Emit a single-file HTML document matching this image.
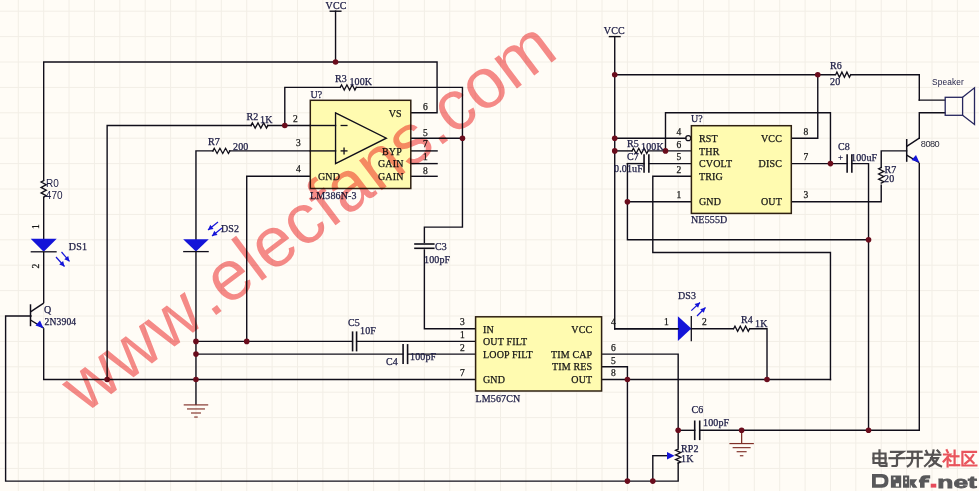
<!DOCTYPE html>
<html><head><meta charset="utf-8"><style>
html,body{margin:0;padding:0;background:#fffcf6;width:979px;height:491px;overflow:hidden}
svg{display:block}
</style></head><body>
<svg width="979" height="491" viewBox="0 0 979 491">
<rect width="979" height="491" fill="#fffcf6"/>
<g stroke="#f2eee6" stroke-width="1"><line x1="18.30" y1="0" x2="18.30" y2="491"/><line x1="43.68" y1="0" x2="43.68" y2="491"/><line x1="69.06" y1="0" x2="69.06" y2="491"/><line x1="94.44" y1="0" x2="94.44" y2="491"/><line x1="119.82" y1="0" x2="119.82" y2="491"/><line x1="145.20" y1="0" x2="145.20" y2="491"/><line x1="170.58" y1="0" x2="170.58" y2="491"/><line x1="195.96" y1="0" x2="195.96" y2="491"/><line x1="221.34" y1="0" x2="221.34" y2="491"/><line x1="246.72" y1="0" x2="246.72" y2="491"/><line x1="272.10" y1="0" x2="272.10" y2="491"/><line x1="297.48" y1="0" x2="297.48" y2="491"/><line x1="322.86" y1="0" x2="322.86" y2="491"/><line x1="348.24" y1="0" x2="348.24" y2="491"/><line x1="373.62" y1="0" x2="373.62" y2="491"/><line x1="399.00" y1="0" x2="399.00" y2="491"/><line x1="424.38" y1="0" x2="424.38" y2="491"/><line x1="449.76" y1="0" x2="449.76" y2="491"/><line x1="475.14" y1="0" x2="475.14" y2="491"/><line x1="500.52" y1="0" x2="500.52" y2="491"/><line x1="525.90" y1="0" x2="525.90" y2="491"/><line x1="551.28" y1="0" x2="551.28" y2="491"/><line x1="576.66" y1="0" x2="576.66" y2="491"/><line x1="602.04" y1="0" x2="602.04" y2="491"/><line x1="627.42" y1="0" x2="627.42" y2="491"/><line x1="652.80" y1="0" x2="652.80" y2="491"/><line x1="678.18" y1="0" x2="678.18" y2="491"/><line x1="703.56" y1="0" x2="703.56" y2="491"/><line x1="728.94" y1="0" x2="728.94" y2="491"/><line x1="754.32" y1="0" x2="754.32" y2="491"/><line x1="779.70" y1="0" x2="779.70" y2="491"/><line x1="805.08" y1="0" x2="805.08" y2="491"/><line x1="830.46" y1="0" x2="830.46" y2="491"/><line x1="855.84" y1="0" x2="855.84" y2="491"/><line x1="881.22" y1="0" x2="881.22" y2="491"/><line x1="906.60" y1="0" x2="906.60" y2="491"/><line x1="931.98" y1="0" x2="931.98" y2="491"/><line x1="957.36" y1="0" x2="957.36" y2="491"/><line x1="0" y1="11.20" x2="979" y2="11.20"/><line x1="0" y1="36.60" x2="979" y2="36.60"/><line x1="0" y1="62.00" x2="979" y2="62.00"/><line x1="0" y1="87.40" x2="979" y2="87.40"/><line x1="0" y1="112.80" x2="979" y2="112.80"/><line x1="0" y1="138.20" x2="979" y2="138.20"/><line x1="0" y1="163.60" x2="979" y2="163.60"/><line x1="0" y1="189.00" x2="979" y2="189.00"/><line x1="0" y1="214.40" x2="979" y2="214.40"/><line x1="0" y1="239.80" x2="979" y2="239.80"/><line x1="0" y1="265.20" x2="979" y2="265.20"/><line x1="0" y1="290.60" x2="979" y2="290.60"/><line x1="0" y1="316.00" x2="979" y2="316.00"/><line x1="0" y1="341.40" x2="979" y2="341.40"/><line x1="0" y1="366.80" x2="979" y2="366.80"/><line x1="0" y1="392.20" x2="979" y2="392.20"/><line x1="0" y1="417.60" x2="979" y2="417.60"/><line x1="0" y1="443.00" x2="979" y2="443.00"/><line x1="0" y1="468.40" x2="979" y2="468.40"/></g>
<line x1="329.55" y1="11.2" x2="341.55" y2="11.2" stroke="#100e1a" stroke-width="1.4"/>
<polyline points="335.55,11.2 335.55,62.0" fill="none" stroke="#100e1a" stroke-width="1.4" stroke-linejoin="miter" stroke-linecap="square"/>
<polyline points="43.68,62.0 437.07,62.0 437.07,112.8 411.69,112.8" fill="none" stroke="#100e1a" stroke-width="1.4" stroke-linejoin="miter" stroke-linecap="square"/>
<line x1="43.68" y1="62.0" x2="43.68" y2="180.6" stroke="#100e1a" stroke-width="1.4"/>
<polyline points="43.68,180.60000000000002 41.08,181.9666666666667 46.28,184.70000000000002 41.08,187.43333333333337 46.28,190.16666666666669 41.08,192.90000000000003 46.28,195.63333333333335 43.68,197.00000000000003" fill="none" stroke="#100e1a" stroke-width="1.3" stroke-linejoin="miter" stroke-linecap="square"/>
<line x1="43.68" y1="197" x2="43.68" y2="239" stroke="#100e1a" stroke-width="1.4"/>
<line x1="43.68" y1="252" x2="43.68" y2="303.2" stroke="#100e1a" stroke-width="1.4"/>
<line x1="30.5" y1="304.3" x2="30.5" y2="326.2" stroke="#100e1a" stroke-width="1.5"/>
<line x1="30.5" y1="311.9" x2="43.68" y2="303.2" stroke="#100e1a" stroke-width="1.4"/>
<line x1="30.5" y1="320" x2="43.68" y2="328.2" stroke="#100e1a" stroke-width="1.4"/>
<line x1="43.68" y1="328.2" x2="43.68" y2="379.5" stroke="#100e1a" stroke-width="1.4"/>
<polyline points="30.99,316.0 5.61,316.0 5.61,481.1 678.18,481.1 678.18,463.32" fill="none" stroke="#100e1a" stroke-width="1.4" stroke-linejoin="miter" stroke-linecap="square"/>
<polyline points="678.18,448.08 678.18,354.1 602.04,354.1" fill="none" stroke="#100e1a" stroke-width="1.4" stroke-linejoin="miter" stroke-linecap="square"/>
<polyline points="678.18,449.1 675.5799999999999,450.2666666666667 680.78,452.6 675.5799999999999,454.93333333333334 680.78,457.2666666666667 675.5799999999999,459.6 680.78,461.93333333333334 678.18,463.1" fill="none" stroke="#100e1a" stroke-width="1.3" stroke-linejoin="miter" stroke-linecap="square"/>
<polyline points="652.8,481.1 652.8,455.7" fill="none" stroke="#100e1a" stroke-width="1.4" stroke-linejoin="miter" stroke-linecap="square"/>
<line x1="652.8" y1="455.7" x2="670" y2="455.7" stroke="#100e1a" stroke-width="1.4"/>
<polyline points="43.68,379.5 475.14,379.5" fill="none" stroke="#100e1a" stroke-width="1.4" stroke-linejoin="miter" stroke-linecap="square"/>
<polyline points="107.13,379.5 107.13,125.5 251.16,125.5" fill="none" stroke="#100e1a" stroke-width="1.4" stroke-linejoin="miter" stroke-linecap="square"/>
<polyline points="250.91000000000003,125.5 252.32666666666668,122.9 255.16000000000003,128.1 257.99333333333334,122.9 260.8266666666667,128.1 263.66,122.9 266.49333333333334,128.1 267.91,125.5" fill="none" stroke="#100e1a" stroke-width="1.3" stroke-linejoin="miter" stroke-linecap="square"/>
<polyline points="267.66,125.5 335.55,125.5" fill="none" stroke="#100e1a" stroke-width="1.4" stroke-linejoin="miter" stroke-linecap="square"/>
<polyline points="284.79,125.5 284.79,87.4 339.99,87.4" fill="none" stroke="#100e1a" stroke-width="1.4" stroke-linejoin="miter" stroke-linecap="square"/>
<polyline points="340.24,87.4 341.5733333333333,84.80000000000001 344.24,90.0 346.9066666666667,84.80000000000001 349.5733333333333,90.0 352.24,84.80000000000001 354.9066666666667,90.0 356.24,87.4" fill="none" stroke="#100e1a" stroke-width="1.3" stroke-linejoin="miter" stroke-linecap="square"/>
<polyline points="356.49,87.4 462.45,87.4 462.45,227.1 424.38,227.1 424.38,242.34" fill="none" stroke="#100e1a" stroke-width="1.4" stroke-linejoin="miter" stroke-linecap="square"/>
<line x1="414.18" y1="244.0" x2="434.58" y2="244.0" stroke="#100e1a" stroke-width="1.6"/>
<line x1="414.18" y1="248.3" x2="434.58" y2="248.3" stroke="#100e1a" stroke-width="1.6"/>
<polyline points="424.38,249.96 424.38,328.7 475.14,328.7" fill="none" stroke="#100e1a" stroke-width="1.4" stroke-linejoin="miter" stroke-linecap="square"/>
<polyline points="386.31,138.2 462.45,138.2" fill="none" stroke="#100e1a" stroke-width="1.4" stroke-linejoin="miter" stroke-linecap="square"/>
<polyline points="195.96,239.8 195.96,150.9 213.09,150.9" fill="none" stroke="#100e1a" stroke-width="1.4" stroke-linejoin="miter" stroke-linecap="square"/>
<polyline points="212.84,150.9 214.25666666666666,148.3 217.09,153.5 219.92333333333335,148.3 222.75666666666666,153.5 225.59,148.3 228.42333333333335,153.5 229.84,150.9" fill="none" stroke="#100e1a" stroke-width="1.3" stroke-linejoin="miter" stroke-linecap="square"/>
<polyline points="229.59,150.9 335.55,150.9" fill="none" stroke="#100e1a" stroke-width="1.4" stroke-linejoin="miter" stroke-linecap="square"/>
<line x1="195.96" y1="252" x2="195.96" y2="404.9" stroke="#100e1a" stroke-width="1.4"/>
<polyline points="310.17,176.3 246.72,176.3 246.72,341.4" fill="none" stroke="#100e1a" stroke-width="1.4" stroke-linejoin="miter" stroke-linecap="square"/>
<polyline points="411.69,150.9 437.07,150.9" fill="none" stroke="#100e1a" stroke-width="1.4" stroke-linejoin="miter" stroke-linecap="square"/>
<polyline points="411.69,163.6 437.07,163.6" fill="none" stroke="#100e1a" stroke-width="1.4" stroke-linejoin="miter" stroke-linecap="square"/>
<polyline points="411.69,176.3 437.07,176.3" fill="none" stroke="#100e1a" stroke-width="1.4" stroke-linejoin="miter" stroke-linecap="square"/>
<polyline points="195.96,341.4 352.05,341.4" fill="none" stroke="#100e1a" stroke-width="1.4" stroke-linejoin="miter" stroke-linecap="square"/>
<line x1="352.58" y1="331.4" x2="352.58" y2="351.4" stroke="#100e1a" stroke-width="1.6"/>
<line x1="356.58" y1="331.4" x2="356.58" y2="351.4" stroke="#100e1a" stroke-width="1.6"/>
<polyline points="357.12,341.4 475.14,341.4" fill="none" stroke="#100e1a" stroke-width="1.4" stroke-linejoin="miter" stroke-linecap="square"/>
<polyline points="195.96,354.1 402.81,354.1" fill="none" stroke="#100e1a" stroke-width="1.4" stroke-linejoin="miter" stroke-linecap="square"/>
<line x1="403.09" y1="344.1" x2="403.09" y2="364.1" stroke="#100e1a" stroke-width="1.6"/>
<line x1="407.59" y1="344.1" x2="407.59" y2="364.1" stroke="#100e1a" stroke-width="1.6"/>
<polyline points="407.88,354.1 475.14,354.1" fill="none" stroke="#100e1a" stroke-width="1.4" stroke-linejoin="miter" stroke-linecap="square"/>
<line x1="608.73" y1="36.6" x2="620.73" y2="36.6" stroke="#100e1a" stroke-width="1.4"/>
<polyline points="614.73,36.6 614.73,328.7" fill="none" stroke="#100e1a" stroke-width="1.4" stroke-linejoin="miter" stroke-linecap="square"/>
<polyline points="614.73,74.7 834.9,74.7" fill="none" stroke="#100e1a" stroke-width="1.4" stroke-linejoin="miter" stroke-linecap="square"/>
<polyline points="835.65,74.7 836.9,72.10000000000001 839.4,77.3 841.9,72.10000000000001 844.4,77.3 846.9,72.10000000000001 849.4,77.3 850.65,74.7" fill="none" stroke="#100e1a" stroke-width="1.3" stroke-linejoin="miter" stroke-linecap="square"/>
<polyline points="851.4,74.7 919.29,74.7 919.29,100.1 944.67,100.1" fill="none" stroke="#100e1a" stroke-width="1.4" stroke-linejoin="miter" stroke-linecap="square"/>
<polyline points="944.67,112.8 919.29,112.8 919.29,138.2" fill="none" stroke="#100e1a" stroke-width="1.4" stroke-linejoin="miter" stroke-linecap="square"/>
<line x1="906.7" y1="139" x2="906.7" y2="161.8" stroke="#100e1a" stroke-width="1.5"/>
<line x1="906.7" y1="146.3" x2="919.29" y2="138.1" stroke="#100e1a" stroke-width="1.4"/>
<line x1="906.7" y1="155.2" x2="919.29" y2="162.6" stroke="#100e1a" stroke-width="1.4"/>
<polyline points="919.29,163.6 919.29,430.3" fill="none" stroke="#100e1a" stroke-width="1.4" stroke-linejoin="miter" stroke-linecap="square"/>
<polyline points="906.6,150.9 881.22,150.9 881.22,167.41" fill="none" stroke="#100e1a" stroke-width="1.4" stroke-linejoin="miter" stroke-linecap="square"/>
<polyline points="881.22,167.55 878.62,168.84166666666667 883.82,171.425 878.62,174.00833333333335 883.82,176.59166666666667 878.62,179.175 883.82,181.75833333333335 881.22,183.05" fill="none" stroke="#100e1a" stroke-width="1.3" stroke-linejoin="miter" stroke-linecap="square"/>
<polyline points="881.22,185.19 881.22,201.7 792.39,201.7" fill="none" stroke="#100e1a" stroke-width="1.4" stroke-linejoin="miter" stroke-linecap="square"/>
<polyline points="665.49,150.9 665.49,112.8 830.46,112.8 830.46,163.6" fill="none" stroke="#100e1a" stroke-width="1.4" stroke-linejoin="miter" stroke-linecap="square"/>
<polyline points="792.39,138.2 817.77,138.2 817.77,74.7" fill="none" stroke="#100e1a" stroke-width="1.4" stroke-linejoin="miter" stroke-linecap="square"/>
<polyline points="792.39,163.6 846.96,163.6" fill="none" stroke="#100e1a" stroke-width="1.4" stroke-linejoin="miter" stroke-linecap="square"/>
<line x1="847.14" y1="154.35" x2="847.14" y2="172.85" stroke="#100e1a" stroke-width="1.6"/>
<line x1="851.84" y1="154.35" x2="851.84" y2="172.85" stroke="#100e1a" stroke-width="1.6"/>
<polyline points="852.03,163.6 868.53,163.6 868.53,430.3" fill="none" stroke="#100e1a" stroke-width="1.4" stroke-linejoin="miter" stroke-linecap="square"/>
<polyline points="614.73,138.2 685.79,138.2" fill="none" stroke="#100e1a" stroke-width="1.4" stroke-linejoin="miter" stroke-linecap="square"/>
<circle cx="688.27" cy="138.2" r="2.5" fill="none" stroke="#100e1a" stroke-width="1.2"/>
<polyline points="614.73,150.9 631.86,150.9" fill="none" stroke="#100e1a" stroke-width="1.4" stroke-linejoin="miter" stroke-linecap="square"/>
<polyline points="632.11,150.9 633.4433333333334,148.3 636.11,153.5 638.7766666666666,148.3 641.4433333333334,153.5 644.11,148.3 646.7766666666666,153.5 648.11,150.9" fill="none" stroke="#100e1a" stroke-width="1.3" stroke-linejoin="miter" stroke-linecap="square"/>
<polyline points="648.36,150.9 690.87,150.9" fill="none" stroke="#100e1a" stroke-width="1.4" stroke-linejoin="miter" stroke-linecap="square"/>
<polyline points="627.42,163.6 643.92,163.6" fill="none" stroke="#100e1a" stroke-width="1.4" stroke-linejoin="miter" stroke-linecap="square"/>
<line x1="644.0500000000001" y1="154.35" x2="644.0500000000001" y2="172.85" stroke="#100e1a" stroke-width="1.6"/>
<line x1="648.85" y1="154.35" x2="648.85" y2="172.85" stroke="#100e1a" stroke-width="1.6"/>
<polyline points="648.99,163.6 690.87,163.6" fill="none" stroke="#100e1a" stroke-width="1.4" stroke-linejoin="miter" stroke-linecap="square"/>
<polyline points="627.42,163.6 627.42,239.8 868.53,239.8" fill="none" stroke="#100e1a" stroke-width="1.4" stroke-linejoin="miter" stroke-linecap="square"/>
<polyline points="690.87,201.7 627.42,201.7" fill="none" stroke="#100e1a" stroke-width="1.4" stroke-linejoin="miter" stroke-linecap="square"/>
<polyline points="690.87,176.3 652.8,176.3 652.8,252.5 830.46,252.5 830.46,379.5" fill="none" stroke="#100e1a" stroke-width="1.4" stroke-linejoin="miter" stroke-linecap="square"/>
<polyline points="602.04,379.5 830.46,379.5" fill="none" stroke="#100e1a" stroke-width="1.4" stroke-linejoin="miter" stroke-linecap="square"/>
<polyline points="602.04,366.8 627.42,366.8 627.42,481.1" fill="none" stroke="#100e1a" stroke-width="1.4" stroke-linejoin="miter" stroke-linecap="square"/>
<polyline points="614.73,328.7 678.18,328.7" fill="none" stroke="#100e1a" stroke-width="1.4" stroke-linejoin="miter" stroke-linecap="square"/>
<polyline points="690.87,328.7 733.38,328.7" fill="none" stroke="#100e1a" stroke-width="1.4" stroke-linejoin="miter" stroke-linecap="square"/>
<polyline points="733.63,328.7 734.9633333333334,326.09999999999997 737.63,331.3 740.2966666666666,326.09999999999997 742.9633333333334,331.3 745.63,326.09999999999997 748.2966666666666,331.3 749.63,328.7" fill="none" stroke="#100e1a" stroke-width="1.3" stroke-linejoin="miter" stroke-linecap="square"/>
<polyline points="749.88,328.7 767.01,328.7 767.01,379.5" fill="none" stroke="#100e1a" stroke-width="1.4" stroke-linejoin="miter" stroke-linecap="square"/>
<polyline points="678.18,430.3 694.68,430.3" fill="none" stroke="#100e1a" stroke-width="1.4" stroke-linejoin="miter" stroke-linecap="square"/>
<line x1="694.71" y1="420.5" x2="694.71" y2="440.1" stroke="#100e1a" stroke-width="1.6"/>
<line x1="699.71" y1="420.5" x2="699.71" y2="440.1" stroke="#100e1a" stroke-width="1.6"/>
<polyline points="699.75,430.3 919.29,430.3" fill="none" stroke="#100e1a" stroke-width="1.4" stroke-linejoin="miter" stroke-linecap="square"/>
<line x1="741.63" y1="430.3" x2="741.63" y2="443.6" stroke="#803028" stroke-width="1.3"/>
<line x1="729.38" y1="443.6" x2="753.88" y2="443.6" stroke="#803028" stroke-width="1.15"/>
<line x1="732.63" y1="447.65000000000003" x2="750.63" y2="447.65000000000003" stroke="#803028" stroke-width="1.15"/>
<line x1="736.63" y1="451.70000000000005" x2="746.63" y2="451.70000000000005" stroke="#803028" stroke-width="1.15"/>
<line x1="739.88" y1="455.75" x2="743.38" y2="455.75" stroke="#803028" stroke-width="1.15"/>
<line x1="183.71" y1="404.9" x2="208.21" y2="404.9" stroke="#803028" stroke-width="1.15"/>
<line x1="186.96" y1="408.95" x2="204.96" y2="408.95" stroke="#803028" stroke-width="1.15"/>
<line x1="190.96" y1="413.0" x2="200.96" y2="413.0" stroke="#803028" stroke-width="1.15"/>
<line x1="194.21" y1="417.04999999999995" x2="197.71" y2="417.04999999999995" stroke="#803028" stroke-width="1.15"/>
<rect x="310.3" y="100.3" width="100.5" height="88.2" fill="#fffbb0" stroke="#2e2012" stroke-width="1.5"/>
<rect x="475.6" y="316.8" width="126.0" height="74.2" fill="#fffbb0" stroke="#2e2012" stroke-width="1.5"/>
<rect x="691.4" y="125.7" width="99.9" height="87.7" fill="#fffbb0" stroke="#2e2012" stroke-width="1.5"/>
<polygon points="335.55,112.8 335.55,163.6 386.31,138.2" fill="none" stroke="#100e1a" stroke-width="1.35"/>
<polyline points="310.17,125.5 335.55,125.5" fill="none" stroke="#100e1a" stroke-width="1.4" stroke-linejoin="miter" stroke-linecap="square"/>
<polyline points="310.17,150.9 335.55,150.9" fill="none" stroke="#100e1a" stroke-width="1.4" stroke-linejoin="miter" stroke-linecap="square"/>
<line x1="340.55" y1="125.5" x2="347.55" y2="125.5" stroke="#100e1a" stroke-width="1.3"/>
<line x1="340.55" y1="150.9" x2="347.55" y2="150.9" stroke="#100e1a" stroke-width="1.3"/>
<line x1="344.05" y1="147.4" x2="344.05" y2="154.4" stroke="#100e1a" stroke-width="1.3"/>
<polygon points="30.68,238.8 56.68,238.8 43.68,251.8" fill="#1414d8"/>
<line x1="30.68" y1="251.8" x2="56.68" y2="251.8" stroke="#100e1a" stroke-width="1.3"/>
<polygon points="183.16,239.2 208.76000000000002,239.2 195.96,251.6" fill="#1414d8"/>
<line x1="183.16" y1="251.6" x2="208.76000000000002" y2="251.6" stroke="#100e1a" stroke-width="1.3"/>
<polygon points="677.9,316.2 677.9,341.1 691.3,328.6" fill="#1414d8"/>
<line x1="691.3" y1="316" x2="691.3" y2="341.2" stroke="#100e1a" stroke-width="1.3"/>
<polyline points="614.73,328.7 678.18,328.7" fill="none" stroke="#100e1a" stroke-width="1.4" stroke-linejoin="miter" stroke-linecap="square"/>
<line x1="61.5" y1="252" x2="69.5" y2="261.4" stroke="#1414d8" stroke-width="1.2"/>
<polygon points="69.50,261.40 64.28,259.28 68.24,255.91" fill="#1414d8"/>
<line x1="56" y1="257" x2="64.5" y2="266.5" stroke="#1414d8" stroke-width="1.2"/>
<polygon points="64.50,266.50 59.23,264.51 63.10,261.04" fill="#1414d8"/>
<line x1="218" y1="222" x2="208" y2="230" stroke="#1414d8" stroke-width="1.2"/>
<polygon points="208.00,230.00 210.28,224.85 213.53,228.91" fill="#1414d8"/>
<line x1="222" y1="228" x2="212" y2="236" stroke="#1414d8" stroke-width="1.2"/>
<polygon points="212.00,236.00 214.28,230.85 217.53,234.91" fill="#1414d8"/>
<line x1="691.3" y1="310.6" x2="700" y2="302.5" stroke="#1414d8" stroke-width="1.2"/>
<polygon points="700.00,302.50 698.11,307.81 694.57,304.00" fill="#1414d8"/>
<line x1="697" y1="316" x2="705.5" y2="307.5" stroke="#1414d8" stroke-width="1.2"/>
<polygon points="705.50,307.50 703.80,312.87 700.13,309.20" fill="#1414d8"/>
<polygon points="43.5,328.2 35.5,325.5 40,320.5" fill="#1414d8"/>
<polygon points="919.4,162.6 911.5,160 916,155" fill="#1414d8"/>
<polygon points="674.5,455.7 667,451.9 667,459.5" fill="#1414d8"/>
<circle cx="335.55" cy="62.0" r="2.8" fill="#6a0c1c"/>
<circle cx="284.79" cy="125.5" r="2.8" fill="#6a0c1c"/>
<circle cx="462.45" cy="138.2" r="2.8" fill="#6a0c1c"/>
<circle cx="195.96" cy="341.4" r="2.8" fill="#6a0c1c"/>
<circle cx="195.96" cy="354.1" r="2.8" fill="#6a0c1c"/>
<circle cx="246.72" cy="341.4" r="2.8" fill="#6a0c1c"/>
<circle cx="107.13" cy="379.5" r="2.8" fill="#6a0c1c"/>
<circle cx="195.96" cy="379.5" r="2.8" fill="#6a0c1c"/>
<circle cx="614.73" cy="74.7" r="2.8" fill="#6a0c1c"/>
<circle cx="817.77" cy="74.7" r="2.8" fill="#6a0c1c"/>
<circle cx="614.73" cy="138.2" r="2.8" fill="#6a0c1c"/>
<circle cx="614.73" cy="150.9" r="2.8" fill="#6a0c1c"/>
<circle cx="665.49" cy="150.9" r="2.8" fill="#6a0c1c"/>
<circle cx="627.42" cy="201.7" r="2.8" fill="#6a0c1c"/>
<circle cx="830.46" cy="163.6" r="2.8" fill="#6a0c1c"/>
<circle cx="868.53" cy="239.8" r="2.8" fill="#6a0c1c"/>
<circle cx="627.42" cy="379.5" r="2.8" fill="#6a0c1c"/>
<circle cx="767.01" cy="379.5" r="2.8" fill="#6a0c1c"/>
<circle cx="678.18" cy="430.3" r="2.8" fill="#6a0c1c"/>
<circle cx="741.63" cy="430.3" r="2.8" fill="#6a0c1c"/>
<circle cx="868.53" cy="430.3" r="2.8" fill="#6a0c1c"/>
<circle cx="627.42" cy="481.1" r="2.8" fill="#6a0c1c"/>
<circle cx="652.8" cy="481.1" r="2.8" fill="#6a0c1c"/>
<text x="325.6" y="9" font-family='"Liberation Serif", serif' font-size="10" fill="#202048" stroke="#202048" stroke-width="0.25" letter-spacing="0.15" text-anchor="start" >VCC</text>
<text x="603.8" y="34" font-family='"Liberation Serif", serif' font-size="10" fill="#202048" stroke="#202048" stroke-width="0.25" letter-spacing="0.15" text-anchor="start" >VCC</text>
<text x="335" y="81.7" font-family='"Liberation Serif", serif' font-size="10" fill="#202048" stroke="#202048" stroke-width="0.25" letter-spacing="0.15" text-anchor="start" >R3</text>
<text x="349.4" y="84.7" font-family='"Liberation Serif", serif' font-size="10" fill="#202048" stroke="#202048" stroke-width="0.25" letter-spacing="0.15" text-anchor="start" >100K</text>
<text x="310.5" y="98" font-family='"Liberation Serif", serif' font-size="10" fill="#202048" stroke="#202048" stroke-width="0.25" letter-spacing="0.15" text-anchor="start" >U?</text>
<text x="246.4" y="120" font-family='"Liberation Serif", serif' font-size="10" fill="#202048" stroke="#202048" stroke-width="0.25" letter-spacing="0.15" text-anchor="start" >R2</text>
<text x="260" y="123" font-family='"Liberation Serif", serif' font-size="10" fill="#202048" stroke="#202048" stroke-width="0.25" letter-spacing="0.15" text-anchor="start" >1K</text>
<text x="293" y="122" font-family='"Liberation Serif", serif' font-size="9.5" fill="#161616" stroke="#161616" stroke-width="0.25" letter-spacing="0.15" text-anchor="start" >2</text>
<text x="296" y="146" font-family='"Liberation Serif", serif' font-size="9.5" fill="#161616" stroke="#161616" stroke-width="0.25" letter-spacing="0.15" text-anchor="start" >3</text>
<text x="296" y="172" font-family='"Liberation Serif", serif' font-size="9.5" fill="#161616" stroke="#161616" stroke-width="0.25" letter-spacing="0.15" text-anchor="start" >4</text>
<text x="208" y="145" font-family='"Liberation Serif", serif' font-size="10" fill="#202048" stroke="#202048" stroke-width="0.25" letter-spacing="0.15" text-anchor="start" >R7</text>
<text x="233" y="150" font-family='"Liberation Serif", serif' font-size="10" fill="#202048" stroke="#202048" stroke-width="0.25" letter-spacing="0.15" text-anchor="start" >200</text>
<text x="388.7" y="117" font-family='"Liberation Serif", serif' font-size="10" fill="#161616" stroke="#161616" stroke-width="0.25" letter-spacing="0.15" text-anchor="start" >VS</text>
<text x="382" y="155" font-family='"Liberation Serif", serif' font-size="10" fill="#161616" stroke="#161616" stroke-width="0.25" letter-spacing="0.15" text-anchor="start" >BYP</text>
<text x="378" y="167" font-family='"Liberation Serif", serif' font-size="10" fill="#161616" stroke="#161616" stroke-width="0.25" letter-spacing="0.15" text-anchor="start" >GAIN</text>
<text x="378" y="179.5" font-family='"Liberation Serif", serif' font-size="10" fill="#161616" stroke="#161616" stroke-width="0.25" letter-spacing="0.15" text-anchor="start" >GAIN</text>
<text x="318" y="179.5" font-family='"Liberation Serif", serif' font-size="10" fill="#161616" stroke="#161616" stroke-width="0.25" letter-spacing="0.15" text-anchor="start" >GND</text>
<text x="310" y="199" font-family='"Liberation Serif", serif' font-size="10" fill="#202048" stroke="#202048" stroke-width="0.25" letter-spacing="0.15" text-anchor="start" >LM386N-3</text>
<text x="423" y="109.5" font-family='"Liberation Serif", serif' font-size="9.5" fill="#161616" stroke="#161616" stroke-width="0.25" letter-spacing="0.15" text-anchor="start" >6</text>
<text x="423" y="135.6" font-family='"Liberation Serif", serif' font-size="9.5" fill="#161616" stroke="#161616" stroke-width="0.25" letter-spacing="0.15" text-anchor="start" >5</text>
<text x="423" y="147.4" font-family='"Liberation Serif", serif' font-size="9.5" fill="#161616" stroke="#161616" stroke-width="0.25" letter-spacing="0.15" text-anchor="start" >7</text>
<text x="423" y="160" font-family='"Liberation Serif", serif' font-size="9.5" fill="#161616" stroke="#161616" stroke-width="0.25" letter-spacing="0.15" text-anchor="start" >1</text>
<text x="423" y="174.1" font-family='"Liberation Serif", serif' font-size="9.5" fill="#161616" stroke="#161616" stroke-width="0.25" letter-spacing="0.15" text-anchor="start" >8</text>
<text x="46" y="187" font-family='"Liberation Sans", sans-serif' font-size="10" fill="#202048" stroke="#202048" stroke-width="0" letter-spacing="0.15" text-anchor="start" >R0</text>
<text x="45.7" y="198.5" font-family='"Liberation Sans", sans-serif' font-size="10" fill="#202048" stroke="#202048" stroke-width="0" letter-spacing="0.15" text-anchor="start" >470</text>
<text x="68.8" y="249.8" font-family='"Liberation Serif", serif' font-size="10" fill="#202048" stroke="#202048" stroke-width="0.25" letter-spacing="0.15" text-anchor="start" >DS1</text>
<text x="221" y="231.5" font-family='"Liberation Serif", serif' font-size="10" fill="#202048" stroke="#202048" stroke-width="0.25" letter-spacing="0.15" text-anchor="start" >DS2</text>
<text x="44" y="313" font-family='"Liberation Serif", serif' font-size="10" fill="#202048" stroke="#202048" stroke-width="0.25" letter-spacing="0.15" text-anchor="start" >Q</text>
<text x="44.5" y="324.7" font-family='"Liberation Serif", serif' font-size="9.6" fill="#202048" stroke="#202048" stroke-width="0.25" letter-spacing="0.15" text-anchor="start" letter-spacing="0">2N3904</text>
<text x="0" y="0" font-family='"Liberation Serif", serif' font-size="9.5" fill="#161616" stroke="#161616" stroke-width="0.25" letter-spacing="0.15" text-anchor="start" transform="translate(39,229) rotate(-90)">1</text>
<text x="0" y="0" font-family='"Liberation Serif", serif' font-size="9.5" fill="#161616" stroke="#161616" stroke-width="0.25" letter-spacing="0.15" text-anchor="start" transform="translate(39,268.5) rotate(-90)">2</text>
<text x="435" y="249.8" font-family='"Liberation Serif", serif' font-size="10" fill="#202048" stroke="#202048" stroke-width="0.25" letter-spacing="0.15" text-anchor="start" >C3</text>
<text x="424" y="262.6" font-family='"Liberation Serif", serif' font-size="10" fill="#202048" stroke="#202048" stroke-width="0.25" letter-spacing="0.15" text-anchor="start" >100pF</text>
<text x="348" y="326" font-family='"Liberation Serif", serif' font-size="10" fill="#202048" stroke="#202048" stroke-width="0.25" letter-spacing="0.15" text-anchor="start" >C5</text>
<text x="360" y="334" font-family='"Liberation Serif", serif' font-size="10" fill="#202048" stroke="#202048" stroke-width="0.25" letter-spacing="0.15" text-anchor="start" >10F</text>
<text x="386" y="365" font-family='"Liberation Serif", serif' font-size="10" fill="#202048" stroke="#202048" stroke-width="0.25" letter-spacing="0.15" text-anchor="start" >C4</text>
<text x="410" y="360" font-family='"Liberation Serif", serif' font-size="10" fill="#202048" stroke="#202048" stroke-width="0.25" letter-spacing="0.15" text-anchor="start" >100pF</text>
<text x="483" y="332.5" font-family='"Liberation Serif", serif' font-size="10" fill="#161616" stroke="#161616" stroke-width="0.25" letter-spacing="0.15" text-anchor="start" >IN</text>
<text x="483" y="345" font-family='"Liberation Serif", serif' font-size="10" fill="#161616" stroke="#161616" stroke-width="0.25" letter-spacing="0.15" text-anchor="start" >OUT FILT</text>
<text x="483" y="357.7" font-family='"Liberation Serif", serif' font-size="10" fill="#161616" stroke="#161616" stroke-width="0.25" letter-spacing="0.15" text-anchor="start" >LOOP FILT</text>
<text x="483" y="383" font-family='"Liberation Serif", serif' font-size="10" fill="#161616" stroke="#161616" stroke-width="0.25" letter-spacing="0.15" text-anchor="start" >GND</text>
<text x="592.3" y="332.5" font-family='"Liberation Serif", serif' font-size="10" fill="#161616" stroke="#161616" stroke-width="0.25" letter-spacing="0.15" text-anchor="end" >VCC</text>
<text x="592.3" y="357.7" font-family='"Liberation Serif", serif' font-size="10" fill="#161616" stroke="#161616" stroke-width="0.25" letter-spacing="0.15" text-anchor="end" >TIM CAP</text>
<text x="592.3" y="370.4" font-family='"Liberation Serif", serif' font-size="10" fill="#161616" stroke="#161616" stroke-width="0.25" letter-spacing="0.15" text-anchor="end" >TIM RES</text>
<text x="592.3" y="383" font-family='"Liberation Serif", serif' font-size="10" fill="#161616" stroke="#161616" stroke-width="0.25" letter-spacing="0.15" text-anchor="end" >OUT</text>
<text x="475.5" y="401.7" font-family='"Liberation Serif", serif' font-size="10" fill="#202048" stroke="#202048" stroke-width="0.25" letter-spacing="0.15" text-anchor="start" >LM567CN</text>
<text x="460" y="325.4" font-family='"Liberation Serif", serif' font-size="9.5" fill="#161616" stroke="#161616" stroke-width="0.25" letter-spacing="0.15" text-anchor="start" >3</text>
<text x="460" y="338" font-family='"Liberation Serif", serif' font-size="9.5" fill="#161616" stroke="#161616" stroke-width="0.25" letter-spacing="0.15" text-anchor="start" >1</text>
<text x="460" y="350.7" font-family='"Liberation Serif", serif' font-size="9.5" fill="#161616" stroke="#161616" stroke-width="0.25" letter-spacing="0.15" text-anchor="start" >2</text>
<text x="460" y="376" font-family='"Liberation Serif", serif' font-size="9.5" fill="#161616" stroke="#161616" stroke-width="0.25" letter-spacing="0.15" text-anchor="start" >7</text>
<text x="611" y="325.4" font-family='"Liberation Serif", serif' font-size="9.5" fill="#161616" stroke="#161616" stroke-width="0.25" letter-spacing="0.15" text-anchor="start" >4</text>
<text x="611" y="351" font-family='"Liberation Serif", serif' font-size="9.5" fill="#161616" stroke="#161616" stroke-width="0.25" letter-spacing="0.15" text-anchor="start" >6</text>
<text x="611" y="364" font-family='"Liberation Serif", serif' font-size="9.5" fill="#161616" stroke="#161616" stroke-width="0.25" letter-spacing="0.15" text-anchor="start" >5</text>
<text x="611" y="376" font-family='"Liberation Serif", serif' font-size="9.5" fill="#161616" stroke="#161616" stroke-width="0.25" letter-spacing="0.15" text-anchor="start" >8</text>
<text x="691" y="122" font-family='"Liberation Serif", serif' font-size="10" fill="#202048" stroke="#202048" stroke-width="0.25" letter-spacing="0.15" text-anchor="start" >U?</text>
<text x="699" y="142" font-family='"Liberation Serif", serif' font-size="10" fill="#161616" stroke="#161616" stroke-width="0.25" letter-spacing="0.15" text-anchor="start" >RST</text>
<text x="699" y="154.5" font-family='"Liberation Serif", serif' font-size="10" fill="#161616" stroke="#161616" stroke-width="0.25" letter-spacing="0.15" text-anchor="start" >THR</text>
<text x="699" y="167" font-family='"Liberation Serif", serif' font-size="10" fill="#161616" stroke="#161616" stroke-width="0.25" letter-spacing="0.15" text-anchor="start" >CVOLT</text>
<text x="699" y="180" font-family='"Liberation Serif", serif' font-size="10" fill="#161616" stroke="#161616" stroke-width="0.25" letter-spacing="0.15" text-anchor="start" >TRIG</text>
<text x="699" y="205" font-family='"Liberation Serif", serif' font-size="10" fill="#161616" stroke="#161616" stroke-width="0.25" letter-spacing="0.15" text-anchor="start" >GND</text>
<text x="782" y="142" font-family='"Liberation Serif", serif' font-size="10" fill="#161616" stroke="#161616" stroke-width="0.25" letter-spacing="0.15" text-anchor="end" >VCC</text>
<text x="782" y="167" font-family='"Liberation Serif", serif' font-size="10" fill="#161616" stroke="#161616" stroke-width="0.25" letter-spacing="0.15" text-anchor="end" >DISC</text>
<text x="782" y="205" font-family='"Liberation Serif", serif' font-size="10" fill="#161616" stroke="#161616" stroke-width="0.25" letter-spacing="0.15" text-anchor="end" >OUT</text>
<text x="691" y="223" font-family='"Liberation Serif", serif' font-size="10" fill="#202048" stroke="#202048" stroke-width="0.25" letter-spacing="0.15" text-anchor="start" >NE555D</text>
<text x="676.5" y="135" font-family='"Liberation Serif", serif' font-size="9.5" fill="#161616" stroke="#161616" stroke-width="0.25" letter-spacing="0.15" text-anchor="start" >4</text>
<text x="676.5" y="147.5" font-family='"Liberation Serif", serif' font-size="9.5" fill="#161616" stroke="#161616" stroke-width="0.25" letter-spacing="0.15" text-anchor="start" >6</text>
<text x="676.5" y="160" font-family='"Liberation Serif", serif' font-size="9.5" fill="#161616" stroke="#161616" stroke-width="0.25" letter-spacing="0.15" text-anchor="start" >5</text>
<text x="676.5" y="173" font-family='"Liberation Serif", serif' font-size="9.5" fill="#161616" stroke="#161616" stroke-width="0.25" letter-spacing="0.15" text-anchor="start" >2</text>
<text x="676.5" y="198" font-family='"Liberation Serif", serif' font-size="9.5" fill="#161616" stroke="#161616" stroke-width="0.25" letter-spacing="0.15" text-anchor="start" >1</text>
<text x="803.5" y="135" font-family='"Liberation Serif", serif' font-size="9.5" fill="#161616" stroke="#161616" stroke-width="0.25" letter-spacing="0.15" text-anchor="start" >8</text>
<text x="803.5" y="160" font-family='"Liberation Serif", serif' font-size="9.5" fill="#161616" stroke="#161616" stroke-width="0.25" letter-spacing="0.15" text-anchor="start" >7</text>
<text x="803.5" y="198" font-family='"Liberation Serif", serif' font-size="9.5" fill="#161616" stroke="#161616" stroke-width="0.25" letter-spacing="0.15" text-anchor="start" >3</text>
<text x="627" y="147" font-family='"Liberation Serif", serif' font-size="10" fill="#202048" stroke="#202048" stroke-width="0.25" letter-spacing="0.15" text-anchor="start" >R5</text>
<text x="641" y="150" font-family='"Liberation Serif", serif' font-size="10" fill="#202048" stroke="#202048" stroke-width="0.25" letter-spacing="0.15" text-anchor="start" >100K</text>
<text x="627" y="160" font-family='"Liberation Serif", serif' font-size="10" fill="#202048" stroke="#202048" stroke-width="0.25" letter-spacing="0.15" text-anchor="start" >C7</text>
<text x="614" y="172" font-family='"Liberation Serif", serif' font-size="10" fill="#202048" stroke="#202048" stroke-width="0.25" letter-spacing="0.15" text-anchor="start" >0.01uF</text>
<text x="830" y="69" font-family='"Liberation Serif", serif' font-size="10" fill="#202048" stroke="#202048" stroke-width="0.25" letter-spacing="0.15" text-anchor="start" >R6</text>
<text x="830" y="85" font-family='"Liberation Serif", serif' font-size="10" fill="#202048" stroke="#202048" stroke-width="0.25" letter-spacing="0.15" text-anchor="start" >20</text>
<text x="838" y="150" font-family='"Liberation Serif", serif' font-size="10" fill="#202048" stroke="#202048" stroke-width="0.25" letter-spacing="0.15" text-anchor="start" >C8</text>
<text x="838" y="160" font-family='"Liberation Serif", serif' font-size="9" fill="#202048" stroke="#202048" stroke-width="0.25" letter-spacing="0.15" text-anchor="start" >+</text>
<text x="851" y="161" font-family='"Liberation Serif", serif' font-size="10" fill="#202048" stroke="#202048" stroke-width="0.25" letter-spacing="0.15" text-anchor="start" >100uF</text>
<text x="884.4" y="172.7" font-family='"Liberation Serif", serif' font-size="10" fill="#202048" stroke="#202048" stroke-width="0.25" letter-spacing="0.15" text-anchor="start" >R7</text>
<text x="884" y="182.4" font-family='"Liberation Serif", serif' font-size="10" fill="#202048" stroke="#202048" stroke-width="0.25" letter-spacing="0.15" text-anchor="start" >20</text>
<text x="920.8" y="147" font-family='"Liberation Sans", sans-serif' font-size="9.2" fill="#2a2a3a" stroke="#2a2a3a" stroke-width="0" letter-spacing="0.15" text-anchor="start" textLength="19">8080</text>
<text x="678" y="299" font-family='"Liberation Serif", serif' font-size="10" fill="#202048" stroke="#202048" stroke-width="0.25" letter-spacing="0.15" text-anchor="start" >DS3</text>
<text x="664" y="325" font-family='"Liberation Serif", serif' font-size="9.5" fill="#161616" stroke="#161616" stroke-width="0.25" letter-spacing="0.15" text-anchor="start" >1</text>
<text x="702" y="325" font-family='"Liberation Serif", serif' font-size="9.5" fill="#161616" stroke="#161616" stroke-width="0.25" letter-spacing="0.15" text-anchor="start" >2</text>
<text x="741" y="323" font-family='"Liberation Serif", serif' font-size="10" fill="#202048" stroke="#202048" stroke-width="0.25" letter-spacing="0.15" text-anchor="start" >R4</text>
<text x="755" y="327" font-family='"Liberation Serif", serif' font-size="10" fill="#202048" stroke="#202048" stroke-width="0.25" letter-spacing="0.15" text-anchor="start" >1K</text>
<text x="691.4" y="413" font-family='"Liberation Serif", serif' font-size="10" fill="#202048" stroke="#202048" stroke-width="0.25" letter-spacing="0.15" text-anchor="start" >C6</text>
<text x="703" y="426" font-family='"Liberation Serif", serif' font-size="10" fill="#202048" stroke="#202048" stroke-width="0.25" letter-spacing="0.15" text-anchor="start" >100pF</text>
<text x="681" y="452" font-family='"Liberation Serif", serif' font-size="10" fill="#202048" stroke="#202048" stroke-width="0.25" letter-spacing="0.15" text-anchor="start" >RP2</text>
<text x="681" y="462" font-family='"Liberation Serif", serif' font-size="10" fill="#202048" stroke="#202048" stroke-width="0.25" letter-spacing="0.15" text-anchor="start" >1K</text>
<rect x="945.2" y="97.3" width="17.4" height="18" fill="none" stroke="#26265e" stroke-width="1.3"/>
<polyline points="962.6,97.3 974.5,87.8 974.5,124.5 962.6,115.3" fill="none" stroke="#26265e" stroke-width="1.3"/>
<polyline points="919.29,100.1 919.29,100.1" fill="none" stroke="#100e1a" stroke-width="1.4" stroke-linejoin="miter" stroke-linecap="square"/>
<text x="932" y="85.4" font-family='"Liberation Sans", sans-serif' font-size="8.3" fill="#202048" stroke="#202048" stroke-width="0" letter-spacing="0.15" text-anchor="start" >Speaker</text>
<path d="M873.5,453.5 H885.5 V463 H873.5 Z" fill="none" stroke="#555252" stroke-width="2.2" stroke-linecap="square" stroke-linejoin="miter"/>
<path d="M873.5,458.3 H885.5" fill="none" stroke="#555252" stroke-width="2.2" stroke-linecap="square" stroke-linejoin="miter"/>
<path d="M879.5,450.3 V464.8 Q879.5,465.8 881,465.8 H886.5 V463.5" fill="none" stroke="#555252" stroke-width="2.2" stroke-linecap="square" stroke-linejoin="miter"/>
<path d="M891,451.8 H903 L897.5,455.5" fill="none" stroke="#555252" stroke-width="2.2" stroke-linecap="square" stroke-linejoin="miter"/>
<path d="M889.5,458.2 H904.5" fill="none" stroke="#555252" stroke-width="2.2" stroke-linecap="square" stroke-linejoin="miter"/>
<path d="M897,455.5 V464.5 Q897,466 895,466 H892.5" fill="none" stroke="#555252" stroke-width="2.2" stroke-linecap="square" stroke-linejoin="miter"/>
<path d="M908,451.7 H921.5" fill="none" stroke="#555252" stroke-width="2.2" stroke-linecap="square" stroke-linejoin="miter"/>
<path d="M907,458 H922.3" fill="none" stroke="#555252" stroke-width="2.2" stroke-linecap="square" stroke-linejoin="miter"/>
<path d="M912.3,452 V459 Q912,464 907.8,466.3" fill="none" stroke="#555252" stroke-width="2.2" stroke-linecap="square" stroke-linejoin="miter"/>
<path d="M917.8,452 V466.5" fill="none" stroke="#555252" stroke-width="2.2" stroke-linecap="square" stroke-linejoin="miter"/>
<path d="M926.2,451 L927.3,453.3" fill="none" stroke="#555252" stroke-width="2.2" stroke-linecap="square" stroke-linejoin="miter"/>
<path d="M925.3,454.7 H940.3" fill="none" stroke="#555252" stroke-width="2.2" stroke-linecap="square" stroke-linejoin="miter"/>
<path d="M937.5,450.6 L939.3,452.5" fill="none" stroke="#555252" stroke-width="2.2" stroke-linecap="square" stroke-linejoin="miter"/>
<path d="M933.5,450.5 Q932.5,460 925,466" fill="none" stroke="#555252" stroke-width="2.2" stroke-linecap="square" stroke-linejoin="miter"/>
<path d="M931,458.2 H938 Q935,464 929.5,466.3" fill="none" stroke="#555252" stroke-width="2.2" stroke-linecap="square" stroke-linejoin="miter"/>
<path d="M932.8,460 Q936,464.5 941,466.3" fill="none" stroke="#555252" stroke-width="2.2" stroke-linecap="square" stroke-linejoin="miter"/>
<path d="M946.8,450.3 L947.8,452.3" fill="none" stroke="#e9545c" stroke-width="2.2" stroke-linecap="square" stroke-linejoin="miter"/>
<path d="M944,454.5 H950 L943.6,461.5" fill="none" stroke="#e9545c" stroke-width="2.2" stroke-linecap="square" stroke-linejoin="miter"/>
<path d="M947.6,457.5 V466.5" fill="none" stroke="#e9545c" stroke-width="2.2" stroke-linecap="square" stroke-linejoin="miter"/>
<path d="M948.5,459 L950.5,461" fill="none" stroke="#e9545c" stroke-width="2.2" stroke-linecap="square" stroke-linejoin="miter"/>
<path d="M954.6,450.6 V465" fill="none" stroke="#e9545c" stroke-width="2.2" stroke-linecap="square" stroke-linejoin="miter"/>
<path d="M950.8,456.3 H958.5" fill="none" stroke="#e9545c" stroke-width="2.2" stroke-linecap="square" stroke-linejoin="miter"/>
<path d="M949.8,465.2 H959.3" fill="none" stroke="#e9545c" stroke-width="2.2" stroke-linecap="square" stroke-linejoin="miter"/>
<path d="M976,451.8 H962.4 V465.5 H976.4" fill="none" stroke="#e9545c" stroke-width="2.2" stroke-linecap="square" stroke-linejoin="miter"/>
<path d="M965.6,455 L973.6,463" fill="none" stroke="#e9545c" stroke-width="2.2" stroke-linecap="square" stroke-linejoin="miter"/>
<path d="M973.2,455 Q970,460.5 965.3,463.5" fill="none" stroke="#e9545c" stroke-width="2.2" stroke-linecap="square" stroke-linejoin="miter"/>
<path d="M872,474 H882 Q888.5,474 888.5,480.8 Q888.5,487.7 882,487.7 H872 Z M875.8,477.6 V484.2 H881 Q884.6,484.2 884.6,480.9 Q884.6,477.6 881,477.6 Z" fill="#58585a" fill-rule="evenodd"/>
<path d="M890.9,475.4 H901.2 V487.7 H890.9 Z M893.5,477.3 H895.5 V479.5 H893.5 Z M895.8,483.3 H899 V486.5 H895.8 Z" fill="#58585a" fill-rule="evenodd"/>
<path d="M903,475.6 H909.2 V487.7 H903 Z M905.2,477.6 H907 V479.4 H905.2 Z M905.2,481.6 H907 V483.4 H905.2 Z M909.8,479.2 H917.2 L914.2,483.2 L917.4,487.7 H912.8 L910.8,484.5 V487.7 H909.8 Z" fill="#58585a" fill-rule="evenodd"/>
<path d="M920,487.7 V480 Q920,475.2 925.5,475.2 H930.2 V478.6 H926.8 Q924.6,478.6 924.6,480.5 V487.7 Z M918.9,479.4 H929.2 V482.4 H918.9 Z" fill="#58585a"/>
<rect x="930.7" y="483.7" width="5.6" height="3.9" fill="#e64a5a"/>
<text x="937.3" y="487.6" font-family='"Liberation Sans", sans-serif' font-weight="bold" font-size="17" fill="#58585a" stroke="#58585a" stroke-width="0.8" textLength="39.5" lengthAdjust="spacingAndGlyphs">net</text>
<g transform="translate(88.43,411.36) rotate(-36.99)" font-family='"Liberation Sans", sans-serif' font-size="70.87" fill="#f58c8c" style="mix-blend-mode:multiply"><text x="-5">www</text><text x="153.54">.elecfans.com</text></g>
</svg></body></html>
